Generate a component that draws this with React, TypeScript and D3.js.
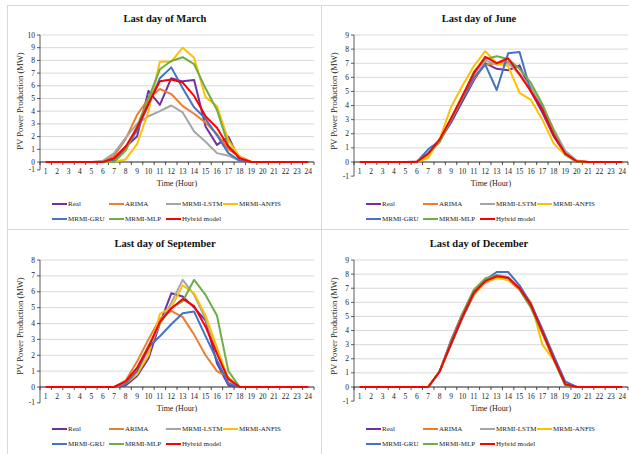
import React from "react";
import * as d3 from "d3";

// hours on the x axis
const hours = [1, 2, 3, 4, 5, 6, 7, 8, 9, 10, 11, 12, 13, 14, 15, 16, 17, 18, 19, 20, 21, 22, 23, 24];

const seriesNames = ["Real", "ARIMA", "MRMI-LSTM", "MRMI-ANFIS", "MRMI-GRU", "MRMI-MLP", "Hybrid model"];
const seriesColors = ["#7030A0", "#ED7D31", "#A5A5A5", "#FFC000", "#4472C4", "#70AD47", "#FF0000"];

// last day of March
const marchReal = [0, 0, 0, 0, 0, 0, 0.3, 1.2, 2.0, 5.6, 4.5, 6.6, 6.35, 6.45, 2.8, 1.35, 2.0, 0.1, 0, 0, 0, 0, 0, 0];
const marchArima = [0, 0, 0, 0, 0, 0, 0.5, 1.8, 3.7, 5.0, 5.75, 5.35, 4.4, 3.8, 3.1, 2.2, 1.0, 0.45, 0, 0, 0, 0, 0, 0];
const marchLstm = [0, 0, 0, 0, 0, 0.1, 0.7, 1.9, 3.0, 3.6, 4.0, 4.45, 3.9, 2.4, 1.6, 0.7, 0.5, 0.1, 0, 0, 0, 0, 0, 0];
const marchAnfis = [0, 0, 0, 0, 0, 0, 0, 0.2, 1.4, 4.0, 7.9, 7.9, 9.0, 8.2, 5.1, 4.4, 1.7, 0.4, 0, 0, 0, 0, 0, 0];
const marchGru = [0, 0, 0, 0, 0, 0, 0.1, 1.0, 2.5, 4.5, 6.6, 7.45, 5.8, 4.3, 3.4, 2.1, 0.7, 0.1, 0, 0, 0, 0, 0, 0];
const marchMlp = [0, 0, 0, 0, 0, 0, 0, 0.9, 2.8, 5.0, 7.3, 7.95, 8.25, 7.7, 5.8, 4.1, 1.3, 0.3, 0, 0, 0, 0, 0, 0];
const marchHybrid = [0, 0, 0, 0, 0, 0, 0.3, 1.2, 2.7, 4.6, 6.35, 6.5, 6.25, 5.2, 3.6, 2.7, 1.2, 0.3, 0, 0, 0, 0, 0, 0];

// last day of June
const juneReal = [0, 0, 0, 0, 0, 0, 0.6, 1.5, 2.8, 4.3, 5.8, 7.0, 6.6, 6.5, 6.85, 5.0, 3.5, 1.8, 0.6, 0.05, 0, 0, 0, 0];
const juneArima = [0, 0, 0, 0, 0, 0, 0.5, 1.5, 3.0, 4.5, 5.9, 6.9, 7.0, 7.1, 6.2, 5.3, 3.8, 2.0, 0.7, 0.05, 0, 0, 0, 0];
const juneLstm = [0, 0, 0, 0, 0, 0.05, 0.6, 1.6, 3.0, 4.6, 6.2, 7.2, 6.9, 7.0, 6.3, 5.2, 4.0, 2.3, 0.8, 0.1, 0, 0, 0, 0];
const juneAnfis = [0, 0, 0, 0, 0, 0, 0.3, 1.6, 3.9, 5.4, 6.8, 7.85, 7.0, 6.8, 4.9, 4.4, 3.0, 1.3, 0.5, 0.05, 0, 0, 0, 0];
const juneGru = [0, 0, 0, 0, 0, 0, 0.9, 1.5, 3.0, 4.5, 6.0, 6.9, 5.1, 7.7, 7.8, 5.0, 3.8, 2.0, 0.6, 0, 0, 0, 0, 0];
const juneMlp = [0, 0, 0, 0, 0, 0, 0.6, 1.4, 3.0, 4.6, 6.4, 7.3, 7.5, 7.3, 6.6, 5.6, 4.1, 2.2, 0.5, 0, 0, 0, 0, 0];
const juneHybrid = [0, 0, 0, 0, 0, 0, 0.6, 1.6, 3.1, 4.7, 6.3, 7.45, 7.0, 7.35, 6.2, 5.0, 3.7, 1.9, 0.6, 0.05, 0, 0, 0, 0];

// last day of September
const sepReal = [0, 0, 0, 0, 0, 0, 0, 0.1, 0.7, 1.8, 4.0, 5.9, 5.7, 5.0, 4.2, 1.5, 0.1, 0, 0, 0, 0, 0, 0, 0];
const sepArima = [0, 0, 0, 0, 0, 0, 0, 0.4, 1.6, 3.0, 4.3, 4.8, 4.4, 3.3, 2.0, 1.0, 0.6, 0, 0, 0, 0, 0, 0, 0];
const sepLstm = [0, 0, 0, 0, 0, 0, 0, 0.3, 1.0, 2.3, 4.0, 5.3, 6.75, 5.8, 4.3, 2.2, 0.3, 0, 0, 0, 0, 0, 0, 0];
const sepAnfis = [0, 0, 0, 0, 0, 0, 0, 0.2, 0.8, 2.0, 4.6, 5.0, 6.4, 5.9, 4.5, 2.5, 0.5, 0, 0, 0, 0, 0, 0, 0];
const sepGru = [0, 0, 0, 0, 0, 0, 0, 0.2, 1.0, 2.5, 3.2, 3.95, 4.65, 4.75, 3.2, 1.7, 0.2, 0, 0, 0, 0, 0, 0, 0];
const sepMlp = [0, 0, 0, 0, 0, 0, 0, 0.3, 1.2, 2.6, 4.0, 5.0, 5.4, 6.75, 5.8, 4.5, 1.0, 0, 0, 0, 0, 0, 0, 0];
const sepHybrid = [0, 0, 0, 0, 0, 0, 0, 0.35, 1.2, 2.5, 4.1, 4.95, 5.55, 5.1, 3.8, 2.1, 0.5, 0, 0, 0, 0, 0, 0, 0];

// last day of December
const decReal = [0, 0, 0, 0, 0, 0, 0, 1.1, 3.3, 5.2, 6.8, 7.6, 7.9, 7.7, 7.0, 5.8, 3.9, 2.1, 0.3, 0, 0, 0, 0, 0];
const decArima = [0, 0, 0, 0, 0, 0, 0, 1.1, 3.1, 5.0, 6.6, 7.4, 7.75, 7.6, 6.9, 5.8, 3.8, 2.0, 0.2, 0, 0, 0, 0, 0];
const decLstm = [0, 0, 0, 0, 0, 0, 0, 1.1, 3.2, 5.1, 6.8, 7.6, 7.95, 7.8, 7.0, 5.7, 3.9, 2.0, 0.3, 0, 0, 0, 0, 0];
const decAnfis = [0, 0, 0, 0, 0, 0, 0, 1.1, 3.0, 4.9, 6.5, 7.5, 7.7, 7.6, 7.0, 6.0, 3.0, 1.9, 0.3, 0, 0, 0, 0, 0];
const decGru = [0, 0, 0, 0, 0, 0, 0, 1.1, 3.0, 4.9, 6.6, 7.6, 8.15, 8.15, 7.2, 5.9, 4.1, 2.2, 0.4, 0, 0, 0, 0, 0];
const decMlp = [0, 0, 0, 0, 0, 0, 0, 1.1, 3.2, 5.2, 6.9, 7.7, 7.9, 7.7, 6.9, 5.6, 3.8, 1.9, 0.1, 0, 0, 0, 0, 0];
const decHybrid = [0, 0, 0, 0, 0, 0, 0, 1.1, 3.1, 5.0, 6.7, 7.5, 7.85, 7.75, 7.0, 5.8, 3.9, 2.0, 0.2, 0, 0, 0, 0, 0];

const font = "'Liberation Serif', 'Times New Roman', serif";
const gridColor = "#d9d9d9";

const panels = [
  { title: "Last day of March", ox: 8, oy: 5, yMax: 10, yMin: -0.62,
    series: [marchReal, marchArima, marchLstm, marchAnfis, marchGru, marchMlp, marchHybrid] },
  { title: "Last day of June", ox: 322, oy: 5, yMax: 9, yMin: -1,
    series: [juneReal, juneArima, juneLstm, juneAnfis, juneGru, juneMlp, juneHybrid] },
  { title: "Last day of September", ox: 8, oy: 230, yMax: 8, yMin: -1,
    series: [sepReal, sepArima, sepLstm, sepAnfis, sepGru, sepMlp, sepHybrid] },
  { title: "Last day of December", ox: 322, oy: 230, yMax: 9, yMin: -1,
    series: [decReal, decArima, decLstm, decAnfis, decGru, decMlp, decHybrid] },
];

const Panel = ({ title, ox, oy, yMax, yMin, series }: any) => {
  const left = 32, right = 306, top = 30, zero = 157;
  const x = d3.scaleBand<number>().domain(hours).range([left, right]);
  const y = d3.scaleLinear().domain([0, yMax]).range([zero, top]);
  const bottom = y(yMin);
  const cx = (h: number) => (x(h) as number) + x.bandwidth() / 2;
  const line = d3.line<number>().x((d, i) => cx(hours[i])).y((d) => y(d));
  const yTicks = d3.range(-1, yMax + 1);

  return (
    <g transform={`translate(${ox},${oy})`} fontFamily={font}>
      <text x={157} y={13} textAnchor="middle" dominantBaseline="central" fontSize={10.5} fontWeight="bold" fill="#111">
        {title}
      </text>
      {yTicks.filter((v) => v > 0).map((v) => (
        <line key={"g" + v} x1={left} x2={right} y1={y(v)} y2={y(v)} stroke={gridColor} strokeWidth={1} />
      ))}
      {yTicks.map((v) => {
        const yy = y(Math.max(v, yMin));
        return (
          <g key={"t" + v}>
            <line x1={left - 3} x2={left} y1={yy} y2={yy} stroke="#333" strokeWidth={0.8} />
            <text x={left - 5} y={yy} textAnchor="end" dominantBaseline="central" fontSize={7.5} fill="#222">
              {v}
            </text>
          </g>
        );
      })}
      <line x1={left} x2={left} y1={top} y2={bottom} stroke="#333" strokeWidth={0.8} />
      <line x1={left} x2={right} y1={y(0)} y2={y(0)} stroke="#222" strokeWidth={1} />
      {hours.map((h) => (
        <line key={"xt" + h} x1={x(h)} x2={x(h)} y1={y(0)} y2={y(0) + 3} stroke="#222" strokeWidth={0.8} />
      ))}
      <line x1={right} x2={right} y1={y(0)} y2={y(0) + 3} stroke="#222" strokeWidth={0.8} />
      {hours.map((h) => (
        <text key={"xl" + h} x={cx(h)} y={y(0) + 9} textAnchor="middle" dominantBaseline="central" fontSize={7.5} fill="#222">
          {h}
        </text>
      ))}
      <text x={(left + right) / 2} y={178} textAnchor="middle" dominantBaseline="central" fontSize={8} fill="#222">
        Time (Hour)
      </text>
      <text transform={`translate(12,96) rotate(-90)`} textAnchor="middle" dominantBaseline="central" fontSize={8.5} fill="#222">
        PV Power Production (MW)
      </text>
      {series.map((vals: number[], i: number) => (
        <path key={"s" + i} d={line(vals) as string} fill="none" stroke={seriesColors[i]} strokeWidth={2} strokeLinejoin="round" />
      ))}
      {seriesNames.map((name, i) => {
        const lx = 44 + (i % 4) * 57;
        const ly = 199 + Math.floor(i / 4) * 15;
        return (
          <g key={"l" + i}>
            <line x1={lx} x2={lx + 15} y1={ly} y2={ly} stroke={seriesColors[i]} strokeWidth={2} />
            <text x={lx + 16} y={ly} dominantBaseline="central" fontSize={7} fill="#222">
              {name}
            </text>
          </g>
        );
      })}
    </g>
  );
};

export default function App() {
  return (
    <svg width={629} height={454} style={{ position: "absolute", left: 0, top: 0, background: "#fff" }}>
      <rect x={0} y={0} width={629} height={454} fill="#fff" />
      <line x1={7.5} x2={7.5} y1={5} y2={454} stroke={gridColor} />
      <line x1={321.5} x2={321.5} y1={5} y2={454} stroke={gridColor} />
      <line x1={7} x2={629} y1={5.5} y2={5.5} stroke={gridColor} />
      <line x1={7} x2={629} y1={229.5} y2={229.5} stroke={gridColor} />
      {panels.map((p) => (
        <Panel key={p.title} {...p} />
      ))}
    </svg>
  );
}
